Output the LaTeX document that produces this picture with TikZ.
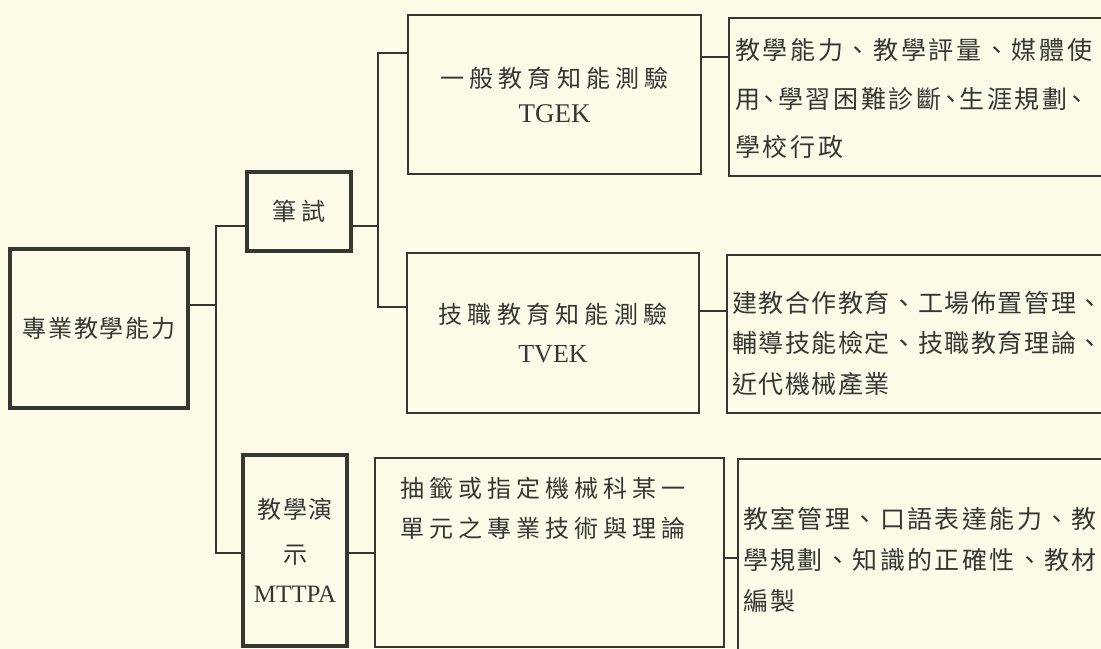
\documentclass[tikz,border=0pt]{standalone}
\usepackage{fontspec}
\setmainfont{Liberation Serif}
\newfontfamily\cjk{Noto Sans CJK TC}
\definecolor{paper}{RGB}{251,251,232}
\definecolor{ink}{RGB}{55,55,50}
\newcommand\cjkfont[3]{\cjk\addfontfeatures{LetterSpace=#3}\fontsize{#1}{#2}\selectfont}
\newcommand\hwc{\makebox[18bp][c]{、}}
\tikzset{
  box/.style={draw=ink, line width=1.4bp, inner sep=0pt, outer sep=0pt, text=ink, align=center},
  heavybox/.style={box, line width=3.5bp},
  conn/.style={draw=ink, line width=1.3bp},
  txt/.style={inner sep=0pt, outer sep=0pt, text=ink, align=left, anchor=north west}
}
\begin{document}
\begin{tikzpicture}[x=1bp,y=-1bp]
\path[use as bounding box, fill=paper] (0,0) rectangle (1101,649);
\clip (0,0) rectangle (1101,649);

% level 0
\node[heavybox, minimum width=178bp, minimum height=159bp, font=\cjkfont{24bp}{30bp}{8}] (root) at (99,328.5) {專業教學能力};

% level 1
\node[heavybox, minimum width=104bp, minimum height=79bp, font=\cjkfont{24bp}{30bp}{17}] (bishi) at (299,211.5) {筆試};
\node[heavybox, minimum width=104bp, minimum height=191bp, font=\cjkfont{24bp}{39bp}{8}] (demo) at (295,550.5)
  {教學演\\[6bp]示\\{\rmfamily\fontsize{25bp}{25bp}\selectfont MTTPA}};

% level 2
\node[box, minimum width=293bp, minimum height=159bp, font=\cjkfont{24bp}{35bp}{22}] (tgek) at (554.5,94.5)
  {一般教育知能測驗\\{\rmfamily\fontsize{27bp}{27bp}\selectfont TGEK}};
\node[box, minimum width=292bp, minimum height=160bp, font=\cjkfont{24bp}{39bp}{22}] (tvek) at (553,333)
  {技職教育知能測驗\\{\rmfamily\fontsize{26bp}{26bp}\selectfont TVEK}};
\node[box, minimum width=349bp, minimum height=189bp] (draw) at (549.5,552.5) {};
\node[txt, font=\cjkfont{24bp}{40bp}{21}] (drawtxt) at ([shift={(25,19)}]draw.north west)
  {抽籤或指定機械科某一\\單元之專業技術與理論};

% level 3
\node[box, minimum width=401bp, minimum height=158bp] (tgekd) at (929.5,97) {};
\node[txt, font=\cjkfont{25bp}{48.5bp}{10.8}] (tgekdtxt) at ([shift={(6,20.75)}]tgekd.north west)
  {教學能力、教學評量、媒體使\\用\hwc 學習困難診斷\hwc 生涯規劃\hwc\\學校行政};
\node[box, minimum width=403bp, minimum height=158bp] (tvekd) at (928.5,334) {};
\node[txt, font=\cjkfont{25bp}{40.5bp}{6.4}] (tvekdtxt) at ([shift={(5,35.75)}]tvekd.north west)
  {建教合作教育、工場佈置管理、\\輔導技能檢定、技職教育理論、\\近代機械產業};
\node[box, minimum width=392bp, minimum height=261bp] (drawd) at (934,589.5) {};
\node[txt, font=\cjkfont{25bp}{41bp}{9.6}] (drawdtxt) at ([shift={(5,47.75)}]drawd.north west)
  {教室管理、口語表達能力、教\\學規劃、知識的正確性、教材\\編製};

% junction coordinates
\coordinate (t0) at (216,305);
\coordinate (t1) at (216,226);
\coordinate (t2) at (216,553);
\coordinate (s1) at (378,53);
\coordinate (s2) at (378,307);
\coordinate (c1) at (715,57);
\coordinate (c2) at (713,311);
\coordinate (c3) at (731,558);

% connectors
\draw[conn] (root.east |- t0) -- (t0);
\draw[conn] (bishi.west |- t1) -- (t1) -- (t2) -- (demo.west |- t2);
\draw[conn] (bishi.east |- t1) -- (s1 |- t1);
\draw[conn] (tgek.west |- s1) -- (s1) -- (s2) -- (tvek.west |- s2);
\draw[conn] (tgek.east |- c1) -- (tgekd.west |- c1);
\draw[conn] (tvek.east |- c2) -- (tvekd.west |- c2);
\draw[conn] (demo.east |- t2) -- (draw.west |- t2);
\draw[conn] (draw.east |- c3) -- (drawd.west |- c3);
\end{tikzpicture}
\end{document}
